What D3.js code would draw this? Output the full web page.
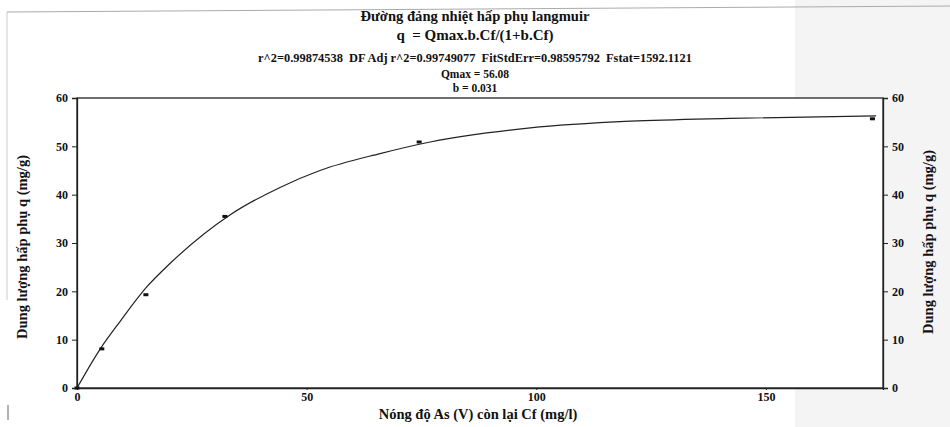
<!DOCTYPE html>
<html><head><meta charset="utf-8">
<script src="https://cdn.jsdelivr.net/npm/d3@7"></script>
<style>body{margin:0;background:#fff}svg{display:block}text{font-family:"Liberation Serif","Times New Roman",serif;fill:#111}</style>
</head><body>
<svg id="c" width="950" height="427"></svg>
<script>
// Observed data points
const cf = [0, 5.4, 15.0, 32.2, 74.5, 173.2];
const qe = [0, 8.1, 19.3, 35.5, 50.9, 55.7];
// Fitted curve
const fitX = [0, 5, 9.4, 15, 20.3, 33.3, 44.2, 52.9, 66, 76.9, 98.7, 120.5, 142.3, 174];
const fitQ = [0, 8, 13.8, 20.7, 25.8, 35.8, 41.5, 45.0, 48.5, 50.9, 53.8, 55.2, 55.8, 56.3];
const xTicks = [0, 50, 100, 150];
const yTicks = [0, 10, 20, 30, 40, 50, 60];
const titleLines = ["Đường đảng nhiệt hấp phụ langmuir", "q  = Qmax.b.Cf/(1+b.Cf)",
  "r^2=0.99874538  DF Adj r^2=0.99749077  FitStdErr=0.98595792  Fstat=1592.1121",
  "Qmax = 56.08", "b = 0.031"];
const xLabel = "Nóng độ As (V) còn lại Cf (mg/l)";
const yLabel = "Dung lượng hấp phụ q (mg/g)";

const svg = d3.select("#c");
// scan background artefacts
svg.append("rect").attr("x",795).attr("y",0).attr("width",155).attr("height",427).attr("fill","#f4f4f4");
svg.append("line").attr("x1",7).attr("x2",950).attr("y1",12).attr("y2",6).attr("stroke","#aaa").attr("stroke-width",1);
svg.append("line").attr("x1",7).attr("x2",7).attr("y1",12).attr("y2",300).attr("stroke","#ccc").attr("stroke-width",1);
svg.append("line").attr("x1",8).attr("x2",8).attr("y1",405).attr("y2",420).attr("stroke","#666").attr("stroke-width",1);

const L=77,R=883,T=98,B=388;
const x = d3.scaleLinear().domain([0,175.5]).range([L,R]);
const y = d3.scaleLinear().domain([0,60]).range([B,T]);

// frame
svg.append("rect").attr("x",L).attr("y",T).attr("width",R-L).attr("height",B-T).attr("fill","#fff").attr("stroke","#222").attr("stroke-width",1.3);

const ax = svg.append("g").attr("transform",`translate(0,${B})`)
  .call(d3.axisBottom(x).tickValues(xTicks).tickSize(2).tickPadding(2).tickFormat(d3.format("d")));
const ayl = svg.append("g").attr("transform",`translate(${L},0)`)
  .call(d3.axisLeft(y).tickValues(yTicks).tickSize(5).tickPadding(4));
const ayr = svg.append("g").attr("transform",`translate(${R},0)`)
  .call(d3.axisRight(y).tickValues(yTicks).tickSize(5).tickPadding(4));
[ax,ayl,ayr].forEach(g=>{
  g.select(".domain").attr("stroke","#222").attr("stroke-width",1.3);
  g.selectAll(".tick line").attr("stroke","#222");
  g.selectAll("text").style("font-family","Liberation Serif").style("font-weight","bold").style("font-size","12px").attr("fill","#111");
});

// curve
const pts = fitX.map((v,i)=>[v,fitQ[i]]);
svg.append("path").datum(pts).attr("fill","none").attr("stroke","#222").attr("stroke-width",1.2)
  .attr("d", d3.line().x(d=>x(d[0])).y(d=>y(d[1])).curve(d3.curveMonotoneX));

// points
svg.selectAll(".pt").data(cf.map((v,i)=>[v,qe[i]])).enter().append("rect")
  .attr("x",d=>x(d[0])-2.5).attr("y",d=>y(d[1])-1.5).attr("width",5).attr("height",3).attr("fill","#111");

// titles
const tY=[21,40,62,78,92], tS=[14.6,15,12.4,11.5,11.5];
titleLines.forEach((t,i)=>{
  svg.append("text").attr("x",475).attr("y",tY[i]).attr("text-anchor","middle")
    .attr("xml:space","preserve").style("white-space","pre")
    .attr("font-weight","bold").attr("font-size",tS[i]+"px").text(t);
});
svg.append("text").attr("x",478).attr("y",419).attr("text-anchor","middle").attr("font-weight","bold").attr("font-size","14.5px").text(xLabel);
svg.append("text").attr("transform","translate(27,247) rotate(-90)").attr("text-anchor","middle").attr("font-weight","bold").attr("font-size","14.5px").text(yLabel);
svg.append("text").attr("transform","translate(933,242) rotate(-90)").attr("text-anchor","middle").attr("font-weight","bold").attr("font-size","14.5px").text(yLabel);
</script>
</body></html>
